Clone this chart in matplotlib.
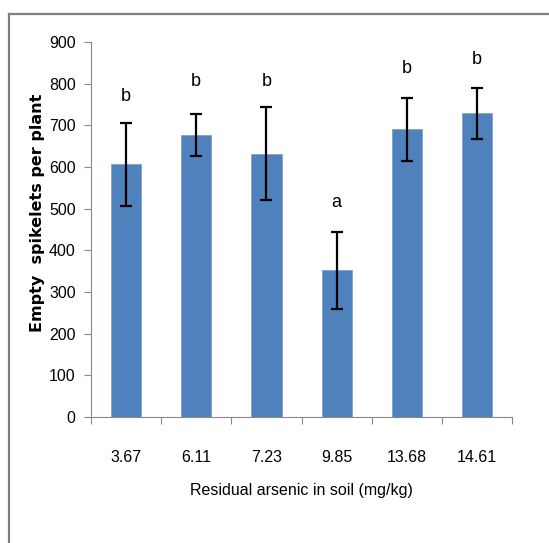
import numpy as np
import matplotlib.pyplot as plt
from matplotlib.lines import Line2D

# data
categories = ["3.67", "6.11", "7.23", "9.85", "13.68", "14.61"]
means = [606, 677, 632, 352, 690, 729]
errors = [100, 51, 112, 92, 76, 61]
letters = ["b", "b", "b", "a", "b", "b"]
letter_y = [770, 804, 804, 514, 837, 858]

plt.rcParams['font.family'] = ['Liberation Sans', 'DejaVu Sans']

fig = plt.figure(figsize=(5.49, 5.43), dpi=100)
ax = fig.add_axes([0.1658, 0.232, 0.767, 0.6907])

x = np.arange(len(categories))
ax.bar(x, means, width=0.43, color='#4F81BD', edgecolor='#7DA3D1', linewidth=0.6, zorder=2)
ax.errorbar(x, means, yerr=errors, fmt='none', ecolor='black', elinewidth=1.6,
            capsize=4, capthick=1.6, zorder=3)

for xi, lab, ly in zip(x, letters, letter_y):
    ax.text(xi, ly, lab, ha='center', va='center', fontsize=13)

ax.set_xlim(-0.5, len(categories) - 0.5)
ax.set_ylim(0, 900)
ax.set_yticks(np.arange(0, 901, 100))
ax.tick_params(axis='y', direction='out', length=5, width=0.8, color='#888888',
               labelsize=11.5, pad=6)

# category boundary ticks, labels at bar centres
ax.set_xticks(np.arange(-0.5, len(categories), 1.0))
ax.set_xticklabels([])
ax.set_xticks(x, minor=True)
ax.set_xticklabels(categories, minor=True)
ax.tick_params(axis='x', which='major', direction='out', length=5, width=0.8, color='#888888')
ax.tick_params(axis='x', which='minor', length=0, labelsize=11.5, pad=24)

for side in ['top', 'right']:
    ax.spines[side].set_visible(False)
for side in ['left', 'bottom']:
    ax.spines[side].set_color('#888888')
    ax.spines[side].set_linewidth(0.8)

ax.set_xlabel("Residual arsenic in soil (mg/kg)", fontsize=11.5, labelpad=13)
fig.text(38 / 549, 1 - 213 / 543, "Empty  spikelets per plant", rotation=90,
         ha='center', va='center', fontsize=11.5, fontweight='bold', family='DejaVu Sans')

# outer chart-area border (partly cut off at right and bottom)
fig.add_artist(Line2D([9 / 549, 9 / 549], [0, 1 - 14 / 543], transform=fig.transFigure,
                      color='#7f7f7f', linewidth=1.6))
fig.add_artist(Line2D([9 / 549, 1], [1 - 14 / 543, 1 - 14 / 543], transform=fig.transFigure,
                      color='#7f7f7f', linewidth=1.6))

fig.savefig("out.png", dpi=100)
